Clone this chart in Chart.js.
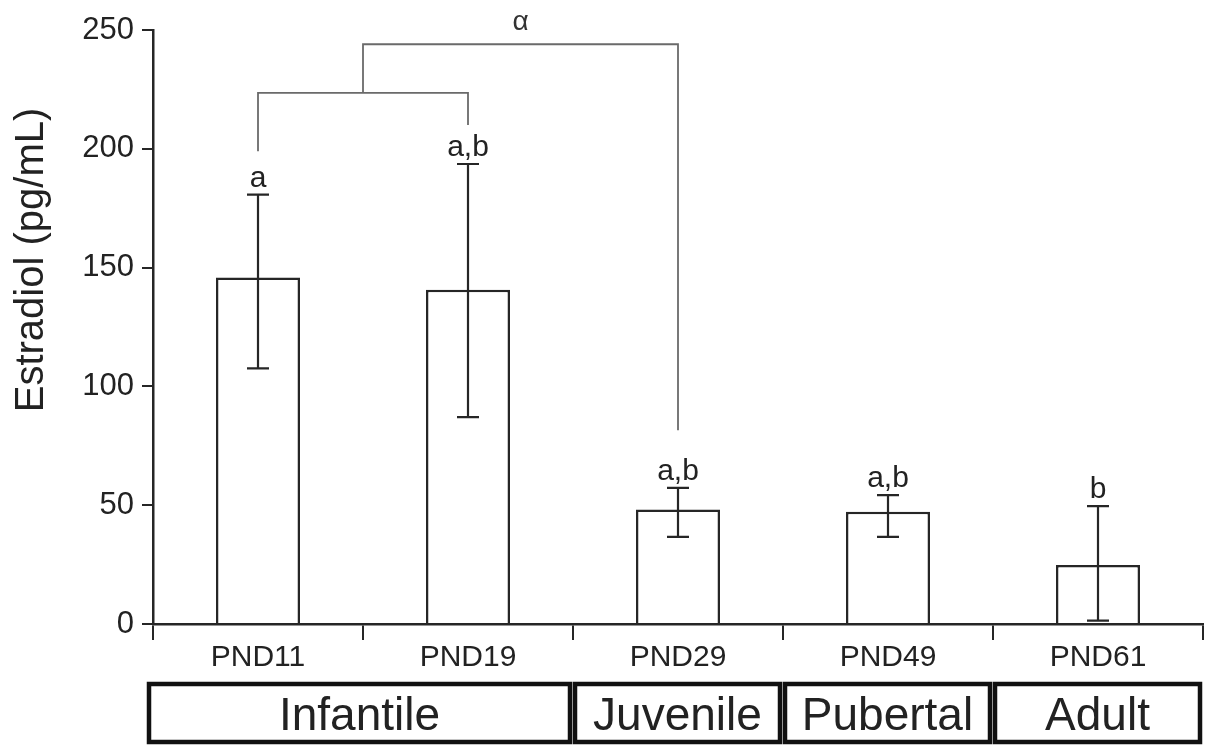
<!DOCTYPE html>
<html>
<head>
<meta charset="utf-8">
<script src="https://cdn.jsdelivr.net/npm/chart.js@4.4.0/dist/chart.umd.min.js"></script>
<style>
  html, body { margin: 0; padding: 0; background: #fff; }
  #wrap { width: 1211px; height: 746px; }
</style>
</head>
<body>
<div id="wrap"><canvas id="chart" width="1211" height="746"></canvas></div>
<script>
const categories = ['PND11', 'PND19', 'PND29', 'PND49', 'PND61'];
const estradiol = [145.8, 140.7, 48.2, 47.2, 24.8];
const errUpper = [180.7, 193.6, 57.3, 54.2, 49.6];
const errLower = [107.6, 87.1, 36.7, 36.7, 1.4];
const sigLetters = ['a', 'a,b', 'a,b', 'a,b', 'b'];
const yTicks = [0, 50, 100, 150, 200, 250];

const stageNames = ['Infantile', 'Juvenile', 'Pubertal', 'Adult'];
const stageFirst = [0, 2, 3, 4];
const stageLast = [1, 2, 3, 4];

// brackets: from/to are category indexes, heights in pg/mL
const bracketFrom = [0, 0.5];
const bracketTo = [1, 2];
const bracketTop = [223.5, 244];
const bracketLeftEnd = [199, 223.5];
const bracketRightEnd = [210, 81.5];
const bracketLabel = ['', 'α'];

const ink = '#262626';
const font = 'Arial, "Liberation Sans", sans-serif';

const extras = {
  id: 'extras',
  afterDatasetsDraw(chart) {
    const ctx = chart.ctx, x = chart.scales.x, y = chart.scales.y;
    ctx.save();

    // error bars + letters
    categories.forEach((c, i) => {
      const px = x.getPixelForValue(i);
      const top = y.getPixelForValue(errUpper[i]);
      const bot = y.getPixelForValue(errLower[i]);
      ctx.strokeStyle = ink;
      ctx.lineWidth = 2.2;
      ctx.beginPath();
      ctx.moveTo(px, top); ctx.lineTo(px, bot);
      ctx.moveTo(px - 11, top); ctx.lineTo(px + 11, top);
      ctx.moveTo(px - 11, bot); ctx.lineTo(px + 11, bot);
      ctx.stroke();

      ctx.fillStyle = '#222';
      ctx.font = '30px ' + font;
      ctx.textAlign = 'center';
      ctx.textBaseline = 'alphabetic';
      ctx.fillText(sigLetters[i], px, top - 8);
    });

    // significance brackets
    ctx.strokeStyle = '#6a6a6a';
    ctx.lineWidth = 1.8;
    bracketFrom.forEach((f, k) => {
      const x1 = x.getPixelForValue(f), x2 = x.getPixelForValue(bracketTo[k]);
      const yt = y.getPixelForValue(bracketTop[k]);
      ctx.beginPath();
      ctx.moveTo(x1, y.getPixelForValue(bracketLeftEnd[k]));
      ctx.lineTo(x1, yt);
      ctx.lineTo(x2, yt);
      ctx.lineTo(x2, y.getPixelForValue(bracketRightEnd[k]));
      ctx.stroke();
      if (bracketLabel[k]) {
        ctx.fillStyle = '#333';
        ctx.font = '28px ' + font;
        ctx.fillText(bracketLabel[k], (x1 + x2) / 2, yt - 14);
      }
    });
    ctx.restore();
  },
  afterDraw(chart) {
    const ctx = chart.ctx, x = chart.scales.x, area = chart.chartArea;
    ctx.save();

    // y axis title
    ctx.fillStyle = '#222';
    ctx.font = '40px ' + font;
    ctx.textAlign = 'center';
    ctx.textBaseline = 'middle';
    ctx.translate(32, 260);
    ctx.rotate(-Math.PI / 2);
    ctx.fillText('Estradiol (pg/mL)', 0, 0);
    ctx.setTransform(1, 0, 0, 1, 0, 0);

    // developmental stage boxes
    const boxTop = area.bottom + 60, boxBot = chart.height - 4;
    ctx.strokeStyle = '#111';
    ctx.lineWidth = 4.5;
    ctx.font = '46px ' + font;
    ctx.textBaseline = 'alphabetic';
    stageNames.forEach((name, k) => {
      const l = x.getPixelForValue(stageFirst[k] - 0.5) + (k === 0 ? -4 : 2);
      const r = x.getPixelForValue(stageLast[k] + 0.5) - 3;
      ctx.strokeRect(l, boxTop, r - l, boxBot - boxTop);
      ctx.fillText(name, (l + r) / 2, boxTop + 46);
    });
    ctx.restore();
  }
};

new Chart(document.getElementById('chart'), {
  type: 'bar',
  data: {
    labels: categories,
    datasets: [{
      data: estradiol,
      backgroundColor: '#ffffff',
      borderColor: ink,
      borderWidth: 2.5,
      barPercentage: 0.4,
      categoryPercentage: 1.0
    }]
  },
  options: {
    responsive: false,
    animation: false,
    layout: { padding: { top: 30, right: 8, left: 0, bottom: 0 } },
    plugins: { legend: { display: false }, tooltip: { enabled: false } },
    scales: {
      x: {
        offset: true,
        afterFit: s => { s.height = 122; },
        border: { color: ink, width: 2.5 },
        grid: { offset: true, drawOnChartArea: false, tickLength: 16, tickColor: ink, lineWidth: 2 },
        ticks: { color: '#222', font: { size: 30, family: font }, padding: 0, maxRotation: 0 }
      },
      y: {
        min: 0,
        max: 250,
        afterBuildTicks: s => { s.ticks = yTicks.map(v => ({ value: v })); },
        afterFit: s => { s.width = 153; },
        border: { color: ink, width: 2.5 },
        grid: { drawOnChartArea: false, tickLength: 11, tickColor: ink, lineWidth: 2 },
        ticks: { color: '#222', font: { size: 31, family: font }, padding: 8 }
      }
    }
  },
  plugins: [extras]
});
</script>
</body>
</html>
